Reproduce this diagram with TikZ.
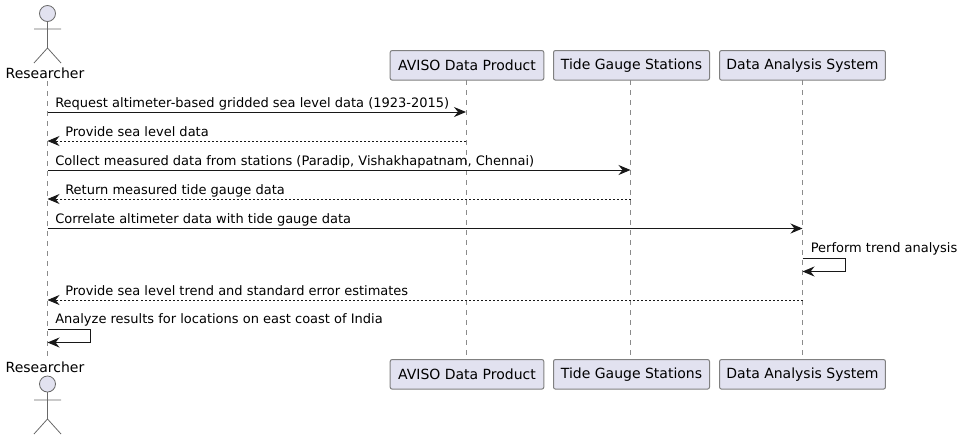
\documentclass[tikz,border=0pt]{standalone}
\usepackage{fontspec}
\setmainfont{DejaVu Sans}
\usetikzlibrary{arrows.meta}
\definecolor{partfill}{HTML}{E2E2F0}
\definecolor{partline}{HTML}{181818}
\tikzset{
  part/.style={draw=partline!55, fill=partfill, line width=0.75, rounded corners=1.5, minimum width=#1, minimum height=22.2pt, inner sep=0pt, font=\fontsize{10.5}{12}\selectfont},
  actorlabel/.style={font=\fontsize{10.5}{12}\selectfont, inner sep=0pt},
  msg/.style={anchor=base west, inner sep=0pt, font=\fontsize{9.75}{12}\selectfont, text=black},
  call/.style={draw=partline, line width=0.75, -{Stealth[length=9pt,width=7.5pt,inset=3pt]}},
  reply/.style={call, dash pattern=on 1.5pt off 1.5pt, line width=0.6},
  lifeline/.style={draw=partline!50, line width=0.6, dash pattern=on 3.75pt off 3.75pt},
  stick/.style={draw=partline!65, line width=0.6}
}
\begin{document}
\begin{tikzpicture}[x=0.75pt,y=-0.75pt]
\useasboundingbox (0,0) rectangle (963,440);

% Lifelines
\coordinate (rTop) at (47.5,81);
\coordinate (rBot) at (47.5,359);
\draw[lifeline] (rTop) -- (rBot);
\coordinate (aTop) at (466,80);
\coordinate (aBot) at (466,359);
\draw[lifeline] (aTop) -- (aBot);
\coordinate (tTop) at (630.5,80);
\coordinate (tBot) at (630.5,359);
\draw[lifeline] (tTop) -- (tBot);
\coordinate (dTop) at (802.5,80);
\coordinate (dBot) at (802.5,359);
\draw[lifeline] (dTop) -- (dBot);

% Participants
\node[part=115.2pt] (avisoTop) at (467,65.3) {AVISO Data Product};
\node[part=117pt] (tideTop) at (631.5,65.3) {Tide Gauge Stations};
\node[part=124.4pt] (dataTop) at (802.5,65.3) {Data Analysis System};
\node[part=115.2pt] (avisoBot) at (467,374.3) {AVISO Data Product};
\node[part=117pt] (tideBot) at (631.5,374.3) {Tide Gauge Stations};
\node[part=124.4pt] (dataBot) at (802.5,374.3) {Data Analysis System};

% Actor
\draw[stick, fill=partfill] (47.5,13.5) circle (8);
\draw[stick] (47.5,21.5) -- (47.5,48) (34,29) -- (61,29) (34,63) -- (47.5,48) -- (61,63);
\node[actorlabel] (resTop) at (45,73) {Researcher};

\draw[stick, fill=partfill] (47.5,384) circle (8);
\draw[stick] (47.5,392) -- (47.5,419) (34,400) -- (61,400) (34,434) -- (47.5,419) -- (61,434);
\node[actorlabel] (resBot) at (45,367) {Researcher};

% Messages
\coordinate (m1a) at (47.5,112);
\coordinate (m1b) at (466,112);
\draw[call] (m1a) -- (m1b);
\node[msg] (l1) at (55,107) {Request altimeter-based gridded sea level data (1923-2015)};

\coordinate (m2a) at (466,141);
\coordinate (m2b) at (47.5,141);
\draw[reply] (m2a) -- (m2b);
\node[msg] (l2) at (65,136) {Provide sea level data};

\coordinate (m3a) at (47.5,170);
\coordinate (m3b) at (630.5,170);
\draw[call] (m3a) -- (m3b);
\node[msg] (l3) at (55,165) {Collect measured data from stations (Paradip, Vishakhapatnam, Chennai)};

\coordinate (m4a) at (630.5,199);
\coordinate (m4b) at (47.5,199);
\draw[reply] (m4a) -- (m4b);
\node[msg] (l4) at (65,194) {Return measured tide gauge data};

\coordinate (m5a) at (47.5,228.5);
\coordinate (m5b) at (802.5,228.5);
\draw[call] (m5a) -- (m5b);
\node[msg] (l5) at (55,223.5) {Correlate altimeter data with tide gauge data};

\coordinate (m6a) at (802.5,258.5);
\coordinate (m6b) at (802.5,271.5);
\draw[call] (m6a) -- (845,258.5) -- (845,271.5) -- (m6b);
\node[msg] (l6) at (810.5,252.5) {Perform trend analysis};

\coordinate (m7a) at (802.5,300);
\coordinate (m7b) at (47.5,300);
\draw[reply] (m7a) -- (m7b);
\node[msg] (l7) at (65,295) {Provide sea level trend and standard error estimates};

\coordinate (m8a) at (47.5,329.5);
\coordinate (m8b) at (47.5,342.5);
\draw[call] (m8a) -- (90,329.5) -- (90,342.5) -- (m8b);
\node[msg] (l8) at (55,323.5) {Analyze results for locations on east coast of India};
\end{tikzpicture}
\end{document}
